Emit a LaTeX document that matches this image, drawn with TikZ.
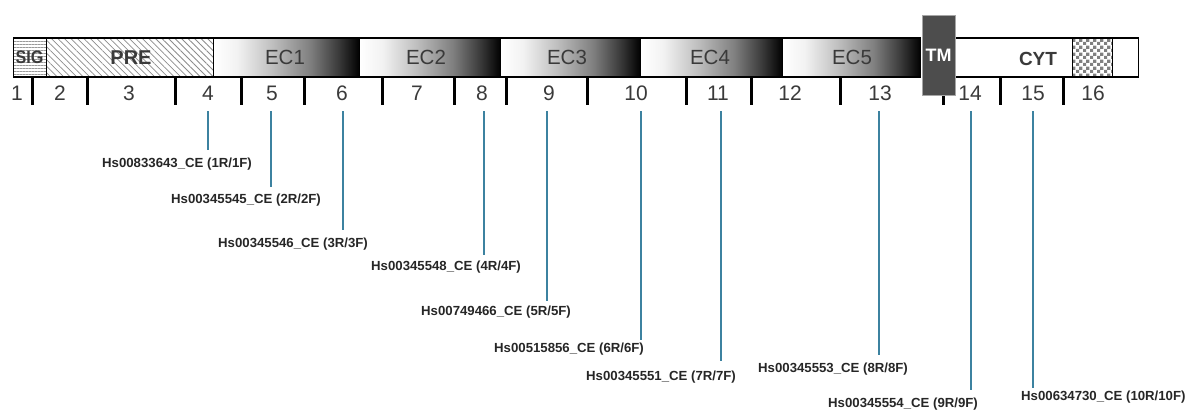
\documentclass[tikz,border=0pt]{standalone}
\usepackage{fontspec}
\setmainfont{Liberation Sans}
\usetikzlibrary{patterns,patterns.meta}
\pgfdeclarehorizontalshading{ecgrad}{100bp}{color(0bp)=(white); color(25bp)=(white); color(33bp)=(white!95!black); color(45bp)=(white!75!black); color(58bp)=(white!50!black); color(68bp)=(white!22!black); color(75bp)=(black); color(100bp)=(black)}
\tikzdeclarepattern{name=mychk, type=uncolored, bounding box={(0pt,0pt) and (6.6pt,6.6pt)}, tile size={(6.6pt,6.6pt)}, code={\fill (0pt,0pt) rectangle (3.3pt,3.3pt); \fill (3.3pt,3.3pt) rectangle (6.6pt,6.6pt);}}
\definecolor{txtgray}{HTML}{3A3A3A}
\definecolor{conncol}{HTML}{3C82A0}
\definecolor{tmgray}{HTML}{4D4D4D}
\begin{document}
\begin{tikzpicture}[x=1pt,y=-1pt,
  seg/.style={draw=black, line width=1.3pt, inner sep=0pt, minimum height=39pt, anchor=west, text=txtgray, font=\fontsize{20}{20}\selectfont},
  ecseg/.style={seg, shading=ecgrad},
  tick/.style={line width=3pt, black},
  num/.style={text=txtgray, font=\fontsize{21}{21}\selectfont, inner sep=0pt},
  lab/.style={anchor=west, inner sep=0pt, font=\bfseries\fontsize{13.2}{13.2}\selectfont, text=black!85},
  conn/.style={conncol, line width=1.8pt}]
\useasboundingbox (0,0) rectangle (1187,410);
% ticks
\foreach \tx [count=\i] in {32,87,175,241,304,382,454,506,587,686,751,840,943,1000,1063}
  \draw[tick] (\tx,77) coordinate (ta\i) -- (\tx,105) coordinate (tb\i);
% bar segments
\node[seg, minimum width=33pt, pattern={Lines[angle=0, distance=3pt, line width=0.6pt]}, pattern color=gray!80] (sig) at (13,57.5) {};
\node[txtgray, font=\bfseries\fontsize{18}{18}\selectfont, xscale=0.9, inner sep=0pt] (sigt) at (29.5,57.5) {SIG};
\node[seg, minimum width=167pt, pattern={Lines[angle=-45, distance=4.6pt, line width=0.8pt]}, pattern color=gray!90] (pre) at (46,57.5) {};
\node[txtgray, font=\bfseries\fontsize{20}{20}\selectfont, inner sep=0pt] (pret) at (131,57.5) {PRE};
\node[ecseg, minimum width=146pt] (ec1) at (213,57.5) {};
\node[ecseg, minimum width=141pt] (ec2) at (359,57.5) {};
\node[ecseg, minimum width=140pt] (ec3) at (500,57.5) {};
\node[ecseg, minimum width=142pt] (ec4) at (640,57.5) {};
\node[ecseg, minimum width=138pt] (ec5) at (782,57.5) {};
\node[num, font=\fontsize{20.5}{20.5}\selectfont] (ec1t) at (285,57.5) {EC1};
\node[num, font=\fontsize{20.5}{20.5}\selectfont] (ec2t) at (426,57.5) {EC2};
\node[num, font=\fontsize{20.5}{20.5}\selectfont] (ec3t) at (567,57.5) {EC3};
\node[num, font=\fontsize{20.5}{20.5}\selectfont] (ec4t) at (710,57.5) {EC4};
\node[num, font=\fontsize{20.5}{20.5}\selectfont] (ec5t) at (852,57.5) {EC5};
\node[seg, minimum width=117pt, fill=white] (cyt) at (955,57.5) {};
\node[txtgray, font=\bfseries\fontsize{19}{19}\selectfont, inner sep=0pt] (cytt) at (1038,59) {CYT};
\node[seg, minimum width=40pt, pattern=mychk, pattern color=black!50] (chk) at (1072,57.5) {};
\node[seg, minimum width=26pt, fill=white] (endseg) at (1112,57.5) {};
% TM
\node[draw=gray!70, line width=1pt, fill=tmgray, minimum width=33pt, minimum height=80pt, inner sep=0pt, anchor=north west] (tm) at (922,15) {};
\node[white, font=\bfseries\fontsize{18}{18}\selectfont, inner sep=0pt] (tmt) at (938.5,55) {TM};
% numbers
\foreach \nx [count=\i] in {17,60,129,208,272,342,417,482,549,636,718,790,880,970,1033,1093}
  \node[num] (n\i) at (\nx,93) {\i};
% labels
\node[lab] (l1) at (102,164) {Hs00833643\_CE (1R/1F)};
\node[lab] (l2) at (171,200) {Hs00345545\_CE (2R/2F)};
\node[lab] (l3) at (218,244) {Hs00345546\_CE (3R/3F)};
\node[lab] (l4) at (371,267) {Hs00345548\_CE (4R/4F)};
\node[lab] (l5) at (421,312) {Hs00749466\_CE (5R/5F)};
\node[lab] (l6) at (494,349) {Hs00515856\_CE (6R/6F)};
\node[lab] (l7) at (586,377) {Hs00345551\_CE (7R/7F)};
\node[lab] (l8) at (758,369) {Hs00345553\_CE (8R/8F)};
\node[lab] (l9) at (828,404) {Hs00345554\_CE (9R/9F)};
\node[lab] (l10) at (1021,397) {Hs00634730\_CE (10R/10F)};
% connectors
\foreach \cx/\cy [count=\i] in {208/150,271/187,343/230,484/255,547/301,641/340,721/361,879/355,971/390,1033/388}{
  \coordinate (p\i) at (\cx,111);
  \coordinate (q\i) at (\cx,\cy);
  \draw[conn] (p\i) -- (q\i);
}
\end{tikzpicture}
\end{document}
